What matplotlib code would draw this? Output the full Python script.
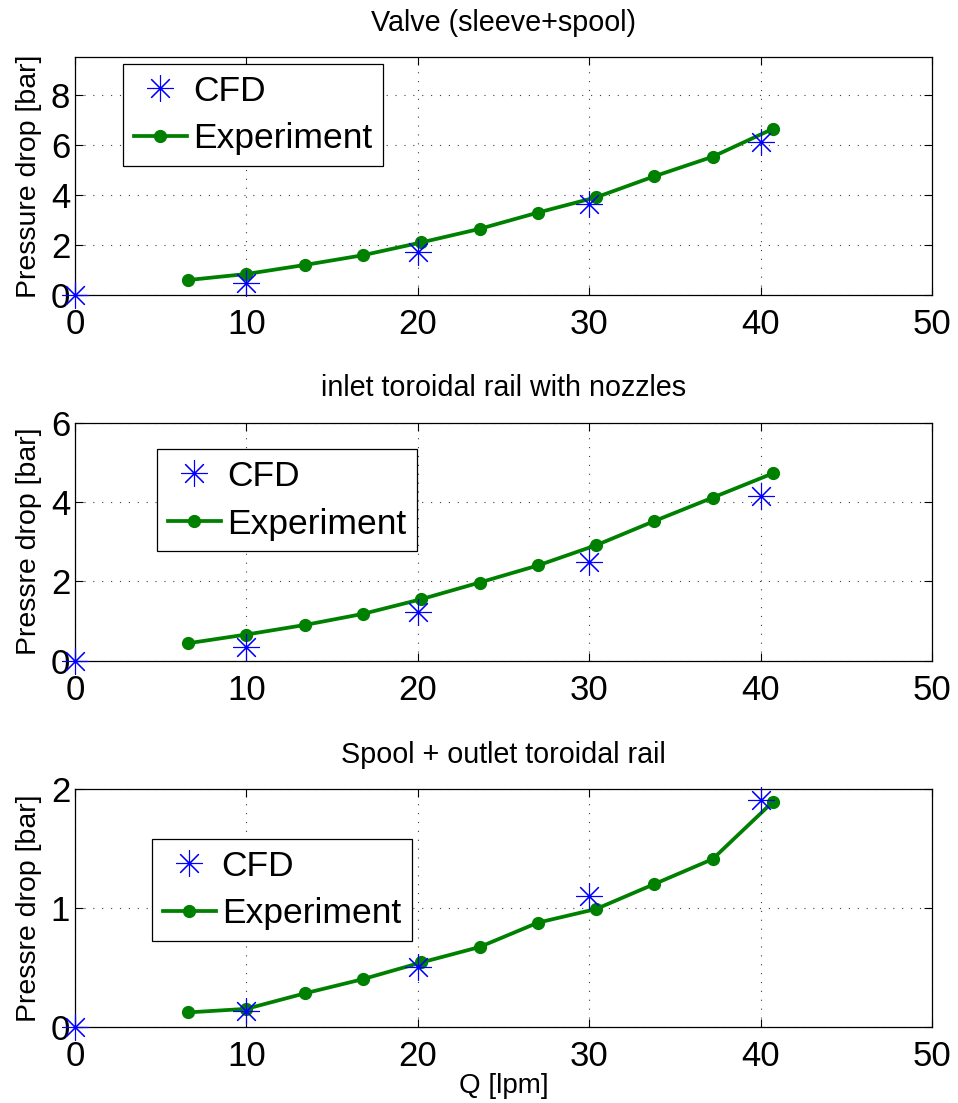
import matplotlib
matplotlib.use("Agg")
import matplotlib.pyplot as plt

plt.rcParams['font.family'] = ['Liberation Sans', 'DejaVu Sans']

# flow rate [lpm]
q_cfd = [0, 10, 20, 30, 40]
q_exp = [6.6, 10.0, 13.4, 16.8, 20.2, 23.6, 27.0, 30.4, 33.8, 37.2, 40.7]

# valve (sleeve+spool)
valve_cfd = [0, 0.49, 1.70, 3.65, 6.11]
valve_exp = [0.60, 0.84, 1.20, 1.59, 2.10, 2.64, 3.29, 3.90, 4.74, 5.52, 6.63]

# inlet toroidal rail with nozzles
inlet_cfd = [0, 0.35, 1.22, 2.50, 4.15]
inlet_exp = [0.44, 0.66, 0.90, 1.18, 1.55, 1.97, 2.40, 2.91, 3.52, 4.11, 4.72]

# spool + outlet toroidal rail
outlet_cfd = [0, 0.13, 0.50, 1.10, 1.91]
outlet_exp = [0.12, 0.15, 0.28, 0.40, 0.54, 0.67, 0.875, 0.99, 1.20, 1.41, 1.89]

titles = ["Valve (sleeve+spool)", "inlet toroidal rail with nozzles",
          "Spool + outlet toroidal rail"]
ylabels = ["Pressure drop [bar]", "Pressre drop [bar]", "Pressre drop [bar]"]
ylims = [9.5, 6, 2]
yticks = [[0, 2, 4, 6, 8], [0, 2, 4, 6], [0, 1, 2]]
xticks = [0, 10, 20, 30, 40, 50]

# axes rectangles and legend anchors (axes coords)
rects = [[0.0783, 0.7325, 0.8946, 0.2158],
         [0.0783, 0.4010, 0.8946, 0.2158],
         [0.0783, 0.0692, 0.8946, 0.2155]]
leg_pos = [(0.056, 0.971), (0.0957, 0.889), (0.0898, 0.790)]

cfd_all = [valve_cfd, inlet_cfd, outlet_cfd]
exp_all = [valve_exp, inlet_exp, outlet_exp]

fig = plt.figure(figsize=(9.58, 11.03), dpi=100)

for i in range(3):
    ax = fig.add_axes(rects[i])
    le, = ax.plot(q_exp, exp_all[i], '-o', color='#008000', lw=2.7, ms=8.5,
                  zorder=3, label='Experiment')
    lc, = ax.plot(q_cfd, cfd_all[i], linestyle='none', marker=(8, 2, 0),
                  color='blue', mec='blue', ms=19, mew=0.8, zorder=4,
                  clip_on=False, label='CFD')
    ax.set_xlim(0, 50)
    ax.set_ylim(0, ylims[i])
    ax.set_xticks(xticks)
    ax.set_yticks(yticks[i])
    ax.tick_params(direction='in', length=6, width=0.8, top=True, right=True,
                   labelsize=25)
    ax.tick_params(axis='x', pad=9.4)
    ax.tick_params(axis='y', pad=3.5)
    ax.grid(True, color='0.25', linestyle=(0, (1, 7)), lw=0.8)
    for s in ax.spines.values():
        s.set_linewidth(0.9)
    ax.set_title(titles[i], fontsize=20.7, pad=19)
    ax.set_ylabel(ylabels[i], fontsize=20.5)
    ax.yaxis.set_label_coords(-0.0385, 0.5)
    leg = ax.legend([lc, le], ['CFD', 'Experiment'], loc='upper left',
                    bbox_to_anchor=leg_pos[i], borderaxespad=0, fontsize=25.5,
                    fancybox=False, edgecolor='k', framealpha=1,
                    borderpad=0.3, labelspacing=0.42, handlelength=1.5,
                    handletextpad=0.17)
    leg.get_frame().set_linewidth(0.9)
    if i == 2:
        ax.set_xlabel('Q [lpm]', fontsize=20)
        ax.xaxis.set_label_coords(0.5, -0.195)
        ax.xaxis.label.set_va('top')

fig.savefig('out.png', dpi=100)
